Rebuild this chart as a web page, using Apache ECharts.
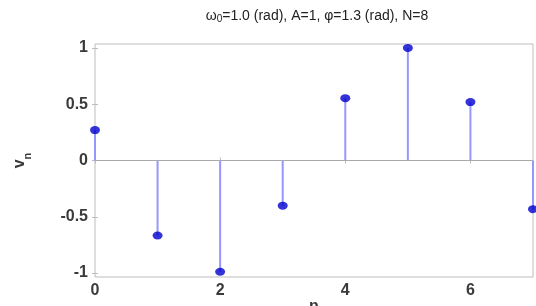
<!DOCTYPE html>
<html><head><meta charset="utf-8">
<script src="https://cdn.jsdelivr.net/npm/echarts@6/dist/echarts.min.js"></script>
<style>html,body{margin:0;padding:0;background:#fff}#c{width:536px;height:306px}</style>
</head><body><div id="c"></div>
<script>
const nValues = [0, 1, 2, 3, 4, 5, 6, 7];
const vValues = [0.27, -0.666, -0.988, -0.401, 0.554, 1.0, 0.519, -0.432];
const yTicks = [-1, -0.5, 0, 0.5, 1];
const xTicks = [0, 2, 4, 6];

const pts = nValues.map((n, i) => [n, vValues[i]]);
const font = 'Liberation Sans, Arial, sans-serif';
const tickStyle = { color: '#bdbdbd' };
const labelStyle = { fontFamily: font, fontSize: 16, fontWeight: 'bold', color: '#3a3a3a' };
const chart = echarts.init(document.getElementById('c'));
chart.setOption({
  animation: false,
  title: {
    text: '{a|ω}{s|0}{a|=1.0 (rad), A=1, φ=1.3 (rad), N=8}',
    left: 312, top: 3, textAlign: 'center',
    textStyle: { fontWeight: 'normal', rich: {
      a: { fontFamily: font, fontSize: 14, color: '#222', fontWeight: 'normal' },
      s: { fontFamily: font, fontSize: 10, color: '#222', fontWeight: 'normal', verticalAlign: 'bottom', padding: [6, 0, 0, 0] }
    } }
  },
  grid: { left: 95, right: 3, top: 44, bottom: 29, show: true, borderColor: '#bdbdbd', borderWidth: 1,
    outerBoundsMode: 'none', containLabel: false },
  xAxis: [{
    type: 'value', min: 0, max: 7, interval: 1,
    name: 'n', nameLocation: 'middle', nameGap: 22, nameMoveOverlap: false,
    nameTextStyle: { fontFamily: font, fontSize: 16, fontWeight: 'bold', color: '#3a3a3a' },
    axisLine: { show: false }, splitLine: { show: false },
    axisTick: { inside: true, length: 3, customValues: xTicks, lineStyle: tickStyle },
    axisLabel: Object.assign({ margin: 6, customValues: xTicks }, labelStyle)
  }, {
    type: 'value', min: 0, max: 7, interval: 1, position: 'top',
    axisLine: { show: false }, splitLine: { show: false }, axisLabel: { show: false },
    axisTick: { inside: true, length: 3, customValues: xTicks, lineStyle: tickStyle }
  }],
  yAxis: [{
    type: 'value', min: -1.035, max: 1.035,
    name: 'v{n|n}', nameLocation: 'middle', nameGap: 67, nameRotate: 90, nameMoveOverlap: false,
    nameTextStyle: { fontFamily: font, fontSize: 16, fontWeight: 'bold', color: '#3a3a3a',
      rich: { n: { fontFamily: font, fontSize: 11, fontWeight: 'bold', color: '#3a3a3a', verticalAlign: 'bottom', padding: [0, 0, -5, 0] } } },
    axisLine: { show: false }, splitLine: { show: false },
    axisTick: { inside: true, length: 3, customValues: yTicks, lineStyle: tickStyle },
    axisLabel: Object.assign({ margin: 7, customValues: yTicks, formatter: v => String(v) }, labelStyle)
  }, {
    type: 'value', min: -1.035, max: 1.035, position: 'right',
    axisLine: { show: false }, splitLine: { show: false }, axisLabel: { show: false },
    axisTick: { inside: true, length: 3, customValues: yTicks, lineStyle: tickStyle }
  }],
  series: [{
    type: 'bar', data: pts, barWidth: 2, silent: true,
    itemStyle: { color: '#9696ff' },
    markLine: { silent: true, symbol: 'none', label: { show: false },
      lineStyle: { color: '#aaaaaa', width: 1, type: 'solid' }, data: [{ yAxis: 0 }] }
  }, {
    type: 'scatter', data: pts, symbol: 'circle', symbolSize: [10, 8], clip: false,
    itemStyle: { color: '#0000d0' }
  }]
});
</script></body></html>
